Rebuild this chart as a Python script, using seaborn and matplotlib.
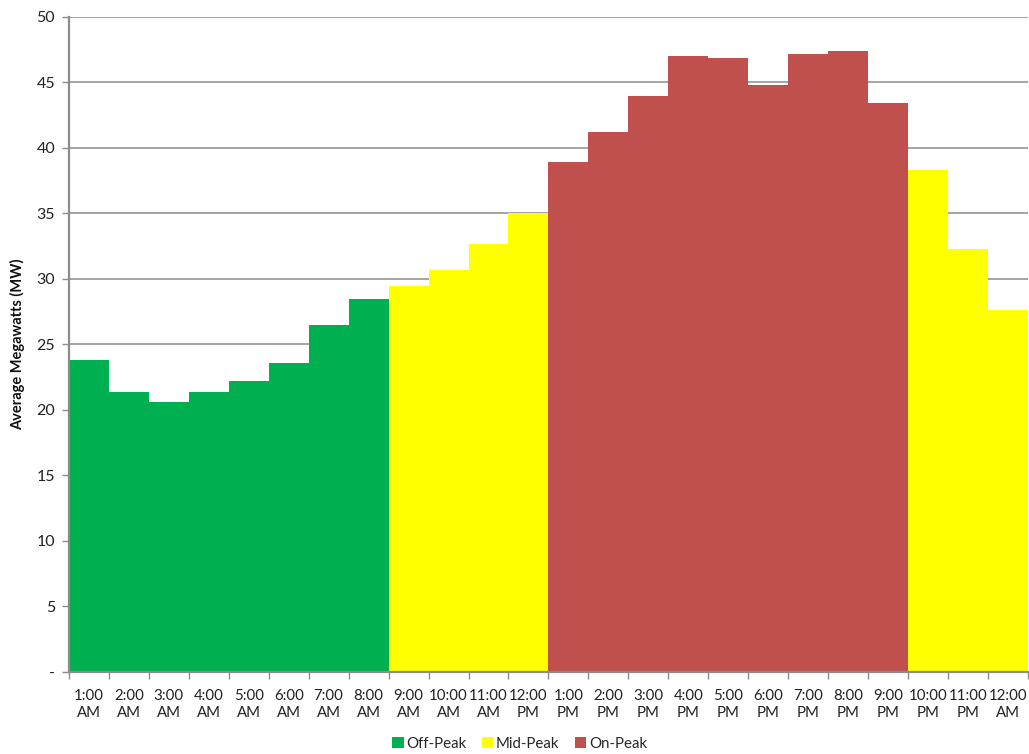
import matplotlib
matplotlib.use("Agg")
import matplotlib.pyplot as plt
import seaborn as sns
import pandas as pd
from matplotlib.patches import Patch

hours = ["1:00\nAM", "2:00\nAM", "3:00\nAM", "4:00\nAM", "5:00\nAM", "6:00\nAM",
         "7:00\nAM", "8:00\nAM", "9:00\nAM", "10:00\nAM", "11:00\nAM", "12:00\nPM",
         "1:00\nPM", "2:00\nPM", "3:00\nPM", "4:00\nPM", "5:00\nPM", "6:00\nPM",
         "7:00\nPM", "8:00\nPM", "9:00\nPM", "10:00\nPM", "11:00\nPM", "12:00\nAM"]
megawatts = [23.8, 21.4, 20.6, 21.4, 22.2, 23.6, 26.5, 28.5,
             29.5, 30.7, 32.7, 35.0,
             38.9, 41.2, 44.0, 47.0, 46.9, 44.8, 47.2, 47.4, 43.4,
             38.3, 32.3, 27.6]
periods = (["Off-Peak"] * 8 + ["Mid-Peak"] * 4 + ["On-Peak"] * 9 + ["Mid-Peak"] * 3)
period_order = ["Off-Peak", "Mid-Peak", "On-Peak"]
period_colors = {"Off-Peak": "#00B050", "Mid-Peak": "#FFFF00", "On-Peak": "#C0504D"}
y_ticks = [0, 5, 10, 15, 20, 25, 30, 35, 40, 45, 50]

df = pd.DataFrame({"hour": hours, "mw": megawatts, "period": periods})

sns.set_style("white")
plt.rcParams["font.family"] = ["Lato", "DejaVu Sans"]

fig = plt.figure(figsize=(10.29, 7.54), dpi=100)
ax = fig.add_axes([0.067, 0.1088, 0.932, 0.8687])

sns.barplot(data=df, x="hour", y="mw", hue="period", hue_order=period_order,
            palette=period_colors, saturation=1, dodge=False, width=1.0,
            linewidth=0, legend=False, ax=ax, zorder=2)

ax.set_xlim(-0.5, len(hours) - 0.5)
ax.set_ylim(0, 50)
ax.set_axisbelow(True)

# horizontal gridlines
for v in y_ticks[1:]:
    ax.axhline(v, color="#8c8c8c", lw=1.1, zorder=0)

ax.set_yticks(y_ticks)
ax.set_yticklabels(["-"] + [str(v) for v in y_ticks[1:]])
ax.tick_params(axis="y", length=5, width=1, color="#8c8c8c", labelsize=11.5,
               labelcolor="#222222", pad=5, left=True)

# x: labels at bar centers, tick marks at bar boundaries
ax.set_xticks(range(len(hours)))
ax.set_xticklabels(hours, linespacing=1.35)
ax.tick_params(axis="x", length=0, labelsize=10.8, labelcolor="#222222", pad=12)
ax.set_xticks([i - 0.5 for i in range(len(hours) + 1)], minor=True)
ax.tick_params(axis="x", which="minor", length=5, width=1, color="#8c8c8c", bottom=True)

for side in ["top", "right"]:
    ax.spines[side].set_visible(False)
for side in ["left", "bottom"]:
    ax.spines[side].set_color("#8c8c8c")
    ax.spines[side].set_linewidth(1.6)
ax.spines["left"].set_zorder(3)
ax.spines["bottom"].set_zorder(3)

ax.set_xlabel("")
ax.set_ylabel("Average Megawatts (MW)", fontsize=10.5, fontweight="bold",
              color="#111111", labelpad=8)

handles = [Patch(facecolor=period_colors[p], edgecolor="none", label=p) for p in period_order]
fig.legend(handles=handles, loc="center", bbox_to_anchor=(0.505, 0.013), ncol=3,
           frameon=False, fontsize=10.8, handlelength=0.75, handleheight=0.75,
           handletextpad=0.2, columnspacing=1.0, borderpad=0)

fig.savefig("out.png", dpi=100)
